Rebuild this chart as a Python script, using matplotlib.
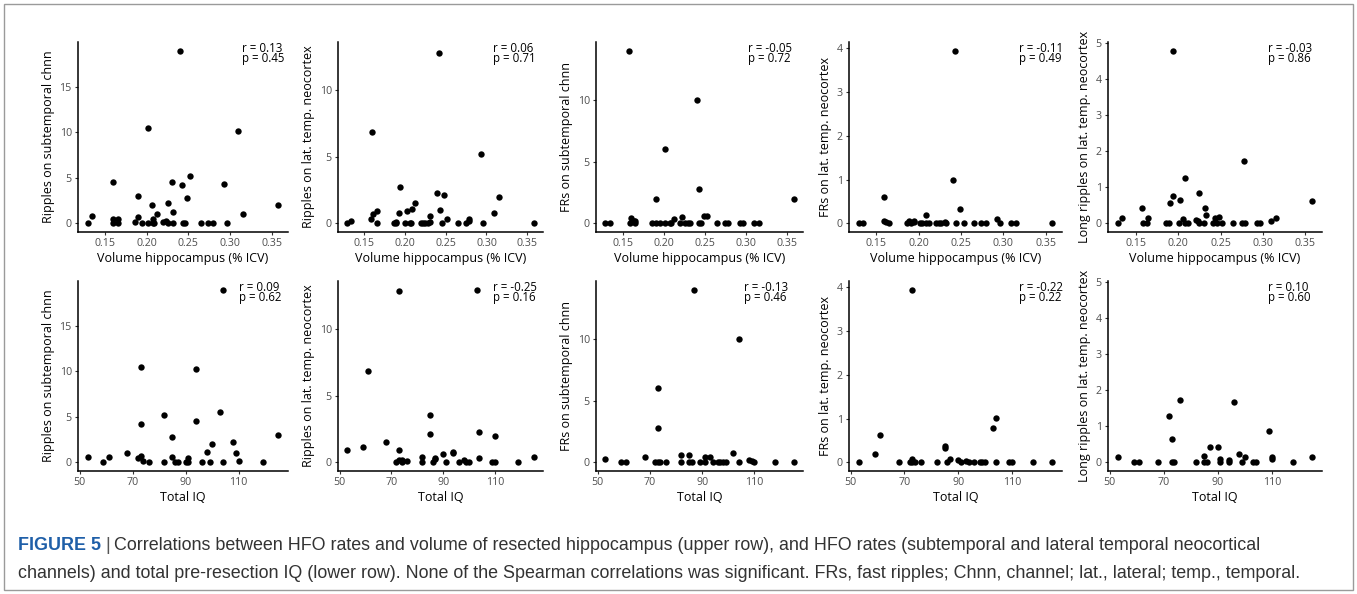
import matplotlib
matplotlib.use("Agg")
import matplotlib.pyplot as plt
from matplotlib.patches import Rectangle

# ---- data ----
# upper row: x = resected hippocampus volume (% ICV)
vol_x_rip_sub = [0.129, 0.134, 0.160, 0.159, 0.165, 0.159, 0.165, 0.186, 0.189, 0.190,
                 0.194, 0.201, 0.207, 0.209, 0.2016, 0.206, 0.208, 0.212, 0.220, 0.223,
                 0.225, 0.232, 0.225, 0.230, 0.232, 0.240, 0.242, 0.244, 0.246, 0.248,
                 0.252, 0.265, 0.274, 0.279, 0.293, 0.296, 0.309, 0.315, 0.358]
vol_y_rip_sub = [0, 0.84, 4.6, 0.45, 0.45, 0, 0, 0.1, 0.7, 3.0,
                 0, 0, 0, 0, 10.5, 2.0, 0.45, 1.0, 0.15, 0.3,
                 0, 0, 2.2, 4.6, 1.2, 19.0, 4.2, 0, 0, 2.75,
                 5.2, 0, 0, 0, 4.3, 0, 10.2, 1.0, 2.0]

vol_x_rip_lat = [0.129, 0.134, 0.158, 0.160, 0.159, 0.165, 0.165, 0.186, 0.189, 0.189,
                 0.193, 0.194, 0.200, 0.206, 0.207, 0.202, 0.208, 0.212, 0.220, 0.222,
                 0.224, 0.228, 0.231, 0.231, 0.239, 0.242, 0.243, 0.245, 0.248, 0.252,
                 0.265, 0.275, 0.278, 0.279, 0.293, 0.296, 0.309, 0.315, 0.358]
vol_y_rip_lat = [0, 0.2, 0.3, 0.68, 6.85, 0.93, 0, 0, 0.1, 0,
                 0.8, 2.7, 0, 0, 0, 0.93, 1.1, 1.55, 0, 0,
                 0, 0, 0.1, 0.55, 2.3, 12.8, 1.0, 0, 2.1, 0.33,
                 0, 0, 0.2, 0.3, 5.2, 0, 0.8, 2.0, 0]

vol_x_fr_sub = [0.129, 0.134, 0.158, 0.159, 0.160, 0.164, 0.165, 0.165, 0.186, 0.190,
                0.190, 0.195, 0.202, 0.202, 0.207, 0.209, 0.213, 0.222, 0.220, 0.226,
                0.229, 0.232, 0.240, 0.243, 0.243, 0.245, 0.249, 0.253, 0.265, 0.274,
                0.278, 0.293, 0.297, 0.310, 0.316, 0.358]
vol_y_fr_sub = [0, 0, 14.0, 0, 0.4, 0.2, 0.2, 0, 0, 2.0,
                0, 0, 6.0, 0, 0, 0, 0.38, 0.5, 0, 0,
                0, 0, 10.0, 2.75, 0, 0, 0.6, 0.6, 0, 0,
                0, 0, 0, 0, 0, 2.0]

vol_x_fr_lat = [0.129, 0.134, 0.159, 0.159, 0.161, 0.165, 0.186, 0.189, 0.191, 0.194,
                0.195, 0.201, 0.204, 0.209, 0.209, 0.212, 0.221, 0.224, 0.226, 0.231,
                0.232, 0.240, 0.243, 0.244, 0.249, 0.253, 0.265, 0.274, 0.279, 0.293,
                0.296, 0.309, 0.315, 0.358]
vol_y_fr_lat = [0, 0, 0.61, 0.06, 0.03, 0, 0, 0.06, 0, 0.03,
                0.05, 0, 0, 0.18, 0, 0, 0, 0, 0, 0.03,
                0, 1.0, 3.95, 0, 0.33, 0, 0, 0, 0, 0.1,
                0, 0, 0, 0]

vol_x_long = [0.129, 0.134, 0.158, 0.159, 0.164, 0.165, 0.186, 0.189, 0.190, 0.194,
              0.194, 0.201, 0.202, 0.206, 0.208, 0.208, 0.212, 0.221, 0.223, 0.225,
              0.231, 0.225, 0.232, 0.233, 0.241, 0.243, 0.244, 0.246, 0.248, 0.252,
              0.265, 0.275, 0.279, 0.278, 0.293, 0.297, 0.309, 0.315, 0.358]
vol_y_long = [0, 0.14, 0.42, 0, 0, 0.14, 0, 0, 0.56, 4.8,
              0.77, 0, 0.64, 0.13, 1.27, 0, 0, 0.09, 0.07, 0,
              0, 0.85, 0.42, 0.22, 0, 0.05, 0.14, 0, 0.19, 0,
              0, 0, 0, 1.72, 0, 0, 0.06, 0.16, 0.62]

# lower row: x = total IQ
iq_x_rip_sub = [53, 59, 61, 68, 72, 73, 73, 73, 74, 76, 82, 82, 85, 85, 86, 87, 90,
                91, 91, 94, 94, 96, 98, 99, 100, 103, 104, 104, 108, 109, 110, 119, 125]
iq_y_rip_sub = [0.55, 0, 0.55, 1.0, 0.5, 0.75, 10.5, 4.27, 0.2, 0, 5.2, 0, 2.8, 0.6, 0, 0, 0,
                0, 0.5, 10.25, 4.6, 0, 1.15, 0, 2.0, 5.55, 19.0, 0, 2.2, 1.0, 0.2, 0, 3.0]

iq_x_rip_lat = [53, 59, 61, 68, 72, 73, 73, 73, 74, 74, 76, 82, 82, 85, 85, 86, 87,
                87, 90, 91, 94, 94, 96, 98, 99, 100, 103, 104, 104, 109, 110, 110, 119, 125]
iq_y_rip_lat = [0.95, 1.15, 6.9, 1.55, 0, 0.95, 12.9, 0.2, 0, 0.15, 0.08, 0.4, 0, 3.55, 2.1, 0, 0.25,
                0.3, 0.6, 0, 0.8, 0.7, 0, 0.2, 0, 0, 13.0, 2.3, 0.3, 0, 0, 2.0, 0, 0.4]

iq_x_fr_sub = [53, 59, 61, 68, 72, 73, 74, 73, 73, 76, 82, 82, 85, 85, 86, 87, 89,
               91, 91, 93, 94, 96, 97, 98, 99, 102, 104, 104, 108, 109, 110, 118, 125]
iq_y_fr_sub = [0.27, 0, 0, 0.43, 0, 0, 0, 6.0, 2.75, 0, 0.62, 0, 0.62, 0, 0, 14.0, 0,
               0, 0.46, 0.43, 0, 0, 0, 0, 0, 0.75, 10.0, 0, 0.2, 0.1, 0, 0, 0]

iq_x_fr_lat = [53, 59, 61, 68, 72, 73, 73, 73, 74, 76, 82, 85, 85, 86, 87,
               90, 91, 93, 94, 96, 98, 99, 100, 103, 104, 104, 109, 110, 118, 125]
iq_y_fr_lat = [0, 0.19, 0.62, 0, 0, 0.08, 3.95, 0, 0, 0, 0, 0.38, 0.33, 0, 0.08,
               0.05, 0, 0.03, 0, 0, 0, 0, 0, 0.79, 1.01, 0, 0, 0, 0, 0]

iq_x_long = [53, 59, 61, 68, 72, 73, 73, 74, 76, 82, 85, 85, 86, 87, 90,
             91, 91, 94, 94, 96, 98, 99, 100, 103, 104, 109, 110, 110, 118, 125]
iq_y_long = [0.15, 0, 0, 0, 1.28, 0.66, 0, 0, 1.73, 0, 0.19, 0, 0, 0.43, 0.43,
             0.1, 0, 0.07, 0.02, 1.69, 0.24, 0, 0.15, 0, 0, 0.86, 0.15, 0.09, 0, 0.15]

y_titles = ["Ripples on subtemporal chnn", "Ripples on lat. temp. neocortex",
            "FRs on subtemporal chnn", "FRs on lat. temp. neocortex",
            "Long ripples on lat. temp. neocortex"]
x_titles = ["Volume hippocampus (% ICV)", "Total IQ"]
r_vals = [["0.13", "0.06", "-0.05", "-0.11", "-0.03"],
          ["0.09", "-0.25", "-0.13", "-0.22", "0.10"]]
p_vals = [["0.45", "0.71", "0.72", "0.49", "0.86"],
          ["0.62", "0.16", "0.46", "0.22", "0.60"]]
y_ticks = [[0, 5, 10, 15], [0, 5, 10], [0, 5, 10], [0, 1, 2, 3, 4], [0, 1, 2, 3, 4, 5]]
x_ticks = [[0.15, 0.20, 0.25, 0.30, 0.35], [50, 70, 90, 110]]

rows = [
    [(vol_x_rip_sub, vol_y_rip_sub), (vol_x_rip_lat, vol_y_rip_lat), (vol_x_fr_sub, vol_y_fr_sub),
     (vol_x_fr_lat, vol_y_fr_lat), (vol_x_long, vol_y_long)],
    [(iq_x_rip_sub, iq_y_rip_sub), (iq_x_rip_lat, iq_y_rip_lat), (iq_x_fr_sub, iq_y_fr_sub),
     (iq_x_fr_lat, iq_y_fr_lat), (iq_x_long, iq_y_long)],
]

# ---- layout (pixels of a 1357x594 canvas) ----
W, H = 1357, 594
col_px = [(78, 288), (338, 543), (596, 803), (849, 1062), (1108, 1322)]
row_px = [(42, 232), (281, 471)]
label_xfrac = [[0.78, 0.756, 0.734, 0.80, 0.748], [0.768, 0.755, 0.717, 0.80, 0.749]]

plt.rcParams["font.family"] = ["Open Sans", "DejaVu Sans"]

fig = plt.figure(figsize=(W / 100, H / 100), dpi=100)


def expand(vals):
    lo, hi = min(vals), max(vals)
    pad = (hi - lo) * 0.05
    return lo - pad, hi + pad


for c in range(5):
    # both rows of a column share the y range
    ylim = expand(rows[0][c][1] + rows[1][c][1])
    for r in range(2):
        x, y = rows[r][c]
        l, rr = col_px[c]
        t, b = row_px[r]
        ax = fig.add_axes([l / W, 1 - b / H, (rr - l) / W, (b - t) / H])
        ax.scatter(x, y, s=21, color="black", linewidths=0, zorder=3)
        ax.set_xlim(expand(x))
        ax.set_ylim(ylim)
        ax.set_xticks(x_ticks[r])
        if r == 0:
            ax.set_xticklabels([f"{v:.2f}" for v in x_ticks[r]])
        ax.set_yticks(y_ticks[c])
        for side in ["top", "right"]:
            ax.spines[side].set_visible(False)
        for side in ["left", "bottom"]:
            ax.spines[side].set_linewidth(1.1)
            ax.spines[side].set_color("black")
        ax.tick_params(length=2.5, width=0.8, color="#333333", pad=2,
                       labelsize=7.7, labelcolor="#4d4d4d")
        ax.set_xlabel(x_titles[r], fontsize=9, labelpad=2)
        ax.set_ylabel(y_titles[c], fontsize=9, labelpad=3)
        ax.text(label_xfrac[r][c], 1.0, f"r = {r_vals[r][c]}", transform=ax.transAxes,
                ha="left", va="top", fontsize=8.3)
        ax.text(label_xfrac[r][c], 0.945, f"p = {p_vals[r][c]}", transform=ax.transAxes,
                ha="left", va="top", fontsize=8.3)

# frame around the figure
fig.patches.append(Rectangle((4 / W, 4 / H), (W - 8) / W, (H - 8) / H, transform=fig.transFigure,
                             fill=False, edgecolor="#9a9a9a", linewidth=1.0))

# caption
cap_font = ["Liberation Sans Narrow", "Liberation Sans", "DejaVu Sans"]
cap_size = 12.9
renderer = fig.canvas.get_renderer()
head = fig.text(18 / W, 1 - 546 / H, "FIGURE 5", family=cap_font, fontsize=cap_size,
                fontweight="bold", color="#1f5fa8", va="center", ha="left")
bb = head.get_window_extent(renderer)
bar = fig.text((bb.x1 + 4) / W, 1 - 546 / H, "|", family=cap_font, fontsize=cap_size,
               color="#555555", va="center", ha="left")
bb = bar.get_window_extent(renderer)
fig.text((bb.x1 + 4) / W, 1 - 546 / H,
         "Correlations between HFO rates and volume of resected hippocampus (upper row), "
         "and HFO rates (subtemporal and lateral temporal neocortical",
         family=cap_font, fontsize=cap_size, color="#333333", va="center", ha="left")
fig.text(18 / W, 1 - 574 / H,
         "channels) and total pre-resection IQ (lower row). None of the Spearman correlations "
         "was significant. FRs, fast ripples; Chnn, channel; lat., lateral; temp., temporal.",
         family=cap_font, fontsize=cap_size, color="#333333", va="center", ha="left")

fig.savefig("out.png", dpi=100)
